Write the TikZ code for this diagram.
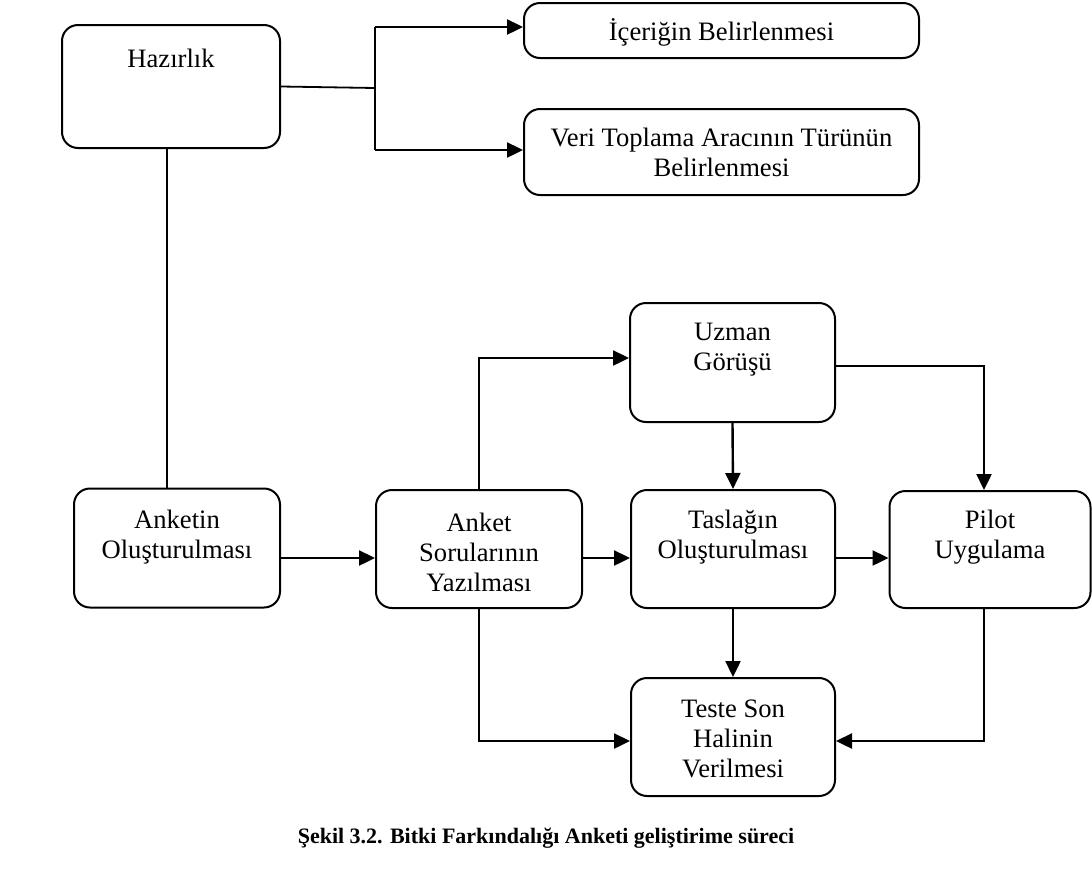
\documentclass[tikz,border=0pt]{standalone}
\usepackage{fontspec}
\setmainfont{Liberation Serif}
\usetikzlibrary{arrows.meta,calc}
\begin{document}
\begin{tikzpicture}[x=1pt,y=-1pt,
  box/.style={draw, line width=2pt, rounded corners=16pt, inner sep=0pt},
  txt/.style={align=center, font=\fontsize{26.6}{30}\selectfont, inner sep=0pt},
  ln/.style={line width=1.8pt},
  arr/.style={line width=2.4pt, -{Triangle[length=16pt,width=15pt]}}]
\useasboundingbox (0,0) rectangle (1092,868);
% boxes
\node[box, minimum width=218pt, minimum height=123pt] (haz) at (171,86.5) {};
\node[txt] (hazt) at (171,58) {Hazırlık};
\node[box, minimum width=395pt, minimum height=55pt] (icr) at (721.5,30.5) {};
\node[txt] (icrt) at (721.5,32) {İçeriğin Belirlenmesi};
\node[box, minimum width=395pt, minimum height=86pt] (veri) at (721.5,152) {};
\node[txt] (verit) at (721.5,152) {Veri Toplama Aracının Türünün\\Belirlenmesi};
\node[box, minimum width=206pt, minimum height=119pt] (ank) at (177,548) {};
\node[txt] (ankt) at (177,537) {Anketin\\Oluşturulması};
\node[box, minimum width=206pt, minimum height=118pt] (sor) at (479,549) {};
\node[txt] (sort) at (479,552) {Anket\\Sorularının\\Yazılması};
\node[box, minimum width=205pt, minimum height=119pt] (uz) at (732.5,362.5) {};
\node[txt] (uzt) at (732.5,350) {Uzman\\Görüşü};
\node[box, minimum width=204pt, minimum height=118pt] (tas) at (733,549) {};
\node[txt] (tast) at (733,537) {Taslağın\\Oluşturulması};
\node[box, minimum width=201pt, minimum height=117pt] (pil) at (990,549.5) {};
\node[txt] (pilt) at (990,537) {Pilot\\Uygulama};
\node[box, minimum width=204pt, minimum height=118pt] (tes) at (733,737) {};
\node[txt] (test) at (733,739) {Teste Son\\Halinin\\Verilmesi};
% caption
\node[font=\bfseries\fontsize{22}{26}\selectfont, inner sep=0pt] (cap) at (546,838) {Şekil 3.2. Bitki Farkındalığı Anketi geliştirime süreci};
% helper coordinates
\coordinate (j) at (375,88);
\coordinate (jt) at (375,27);
\coordinate (jb) at (375,150);
\coordinate (r1) at (0,558);
\coordinate (r2) at (0,358);
\coordinate (r3) at (0,741);
\coordinate (p1) at (984,366);
% connectors
\draw[ln] (haz.east) -- (j);
\draw[ln] (jt) -- (jb);
\draw[arr] (jt) -- (jt -| icr.west);
\draw[arr] (jb) -- (jb -| veri.west);
\draw[ln] ([xshift=-4pt]haz.south) -- ([xshift=-4pt]haz.south |- ank.north);
\draw[arr] (ank.east |- r1) -- (sor.west |- r1);
\draw[arr] (sor.east |- r1) -- (tas.west |- r1);
\draw[arr] (tas.east |- r1) -- (pil.west |- r1);
\draw[arr] (sor.north) |- (uz.west |- r2);
\draw[arr] (uz.east |- p1) -| (p1 |- pil.north);
\draw[arr] (uz.south) -- (tas.north);
\draw[arr] (tas.south) -- (tes.north);
\draw[arr] (sor.south) |- (tes.west |- r3);
\draw[arr] (p1 |- pil.south) |- (tes.east |- r3);
\end{tikzpicture}
\end{document}
